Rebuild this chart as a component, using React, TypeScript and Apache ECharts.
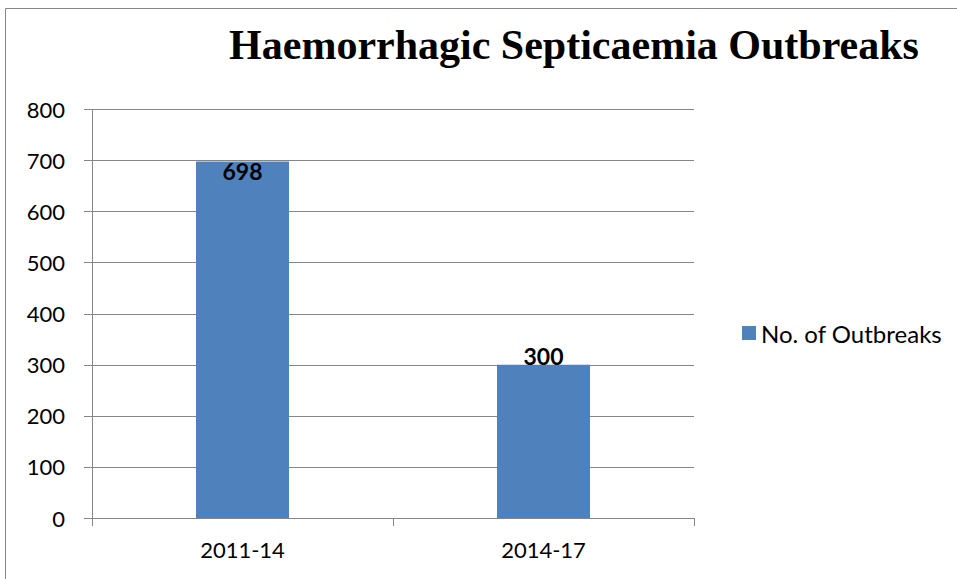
import React, { useEffect, useRef } from "react";
import * as echarts from "echarts";

const categories = ["2011-14", "2014-17"];
const outbreaks = [698, 300];
const seriesName = "No. of Outbreaks";
const titleText = "Haemorrhagic Septicaemia Outbreaks";

export default function App() {
  const ref = useRef<HTMLDivElement>(null);
  useEffect(() => {
    if (!ref.current) return;
    const chart = echarts.init(ref.current, null, { renderer: "svg" });
    const sans = "Lato, 'Noto Sans', sans-serif";
    chart.setOption({
      animation: false,
      backgroundColor: "#ffffff",
      title: {
        text: titleText,
        left: 569,
        top: 19,
        textAlign: "center",
        textStyle: {
          fontFamily: "'Liberation Serif', serif",
          fontWeight: "bold",
          fontSize: 42,
          color: "#000000",
        },
      },
      graphic: [
        {
          type: "rect",
          shape: { x: 5.5, y: 8.5, width: 1200, height: 1200 },
          style: { fill: "none", stroke: "#888888", lineWidth: 1 },
          silent: true,
        },
      ],
      legend: {
        orient: "vertical",
        left: 737,
        top: 316,
        itemWidth: 14,
        itemHeight: 14,
        itemGap: 6,
        icon: "rect",
        textStyle: { fontFamily: sans, fontSize: 24, color: "#000000" },
        data: [seriesName],
      },
      grid: { left: 92, right: 263, top: 109.5, bottom: 61, containLabel: false },
      xAxis: {
        type: "category",
        data: categories,
        axisLine: { lineStyle: { color: "#868686", width: 1 } },
        axisTick: { show: true, length: 8, alignWithLabel: false, lineStyle: { color: "#868686" } },
        axisLabel: { fontFamily: sans, fontSize: 22, color: "#000000", margin: 20 },
      },
      yAxis: {
        type: "value",
        min: 0,
        max: 800,
        interval: 100,
        axisLine: { show: true, lineStyle: { color: "#868686", width: 1 } },
        axisTick: { show: true, length: 8, lineStyle: { color: "#868686" } },
        splitLine: { show: true, lineStyle: { color: "#868686", width: 1 } },
        axisLabel: { fontFamily: sans, fontSize: 22, color: "#000000", margin: 27 },
      },
      series: [
        {
          name: seriesName,
          type: "bar",
          barWidth: 93,
          itemStyle: { color: "#4F81BD" },
          data: outbreaks.map((v, i) => ({
            value: v,
            label:
              i === 0
                ? { show: true, position: "insideTop", distance: -2 }
                : { show: true, position: "top", distance: -3 },
          })),
          label: {
            show: true,
            fontFamily: sans,
            fontWeight: "bold",
            fontSize: 23,
            color: "#000000",
          },
        },
      ],
    });
    return () => chart.dispose();
  }, []);
  return (
    <div
      ref={ref}
      style={{ position: "absolute", left: 0, top: 0, width: 957, height: 579 }}
    />
  );
}
